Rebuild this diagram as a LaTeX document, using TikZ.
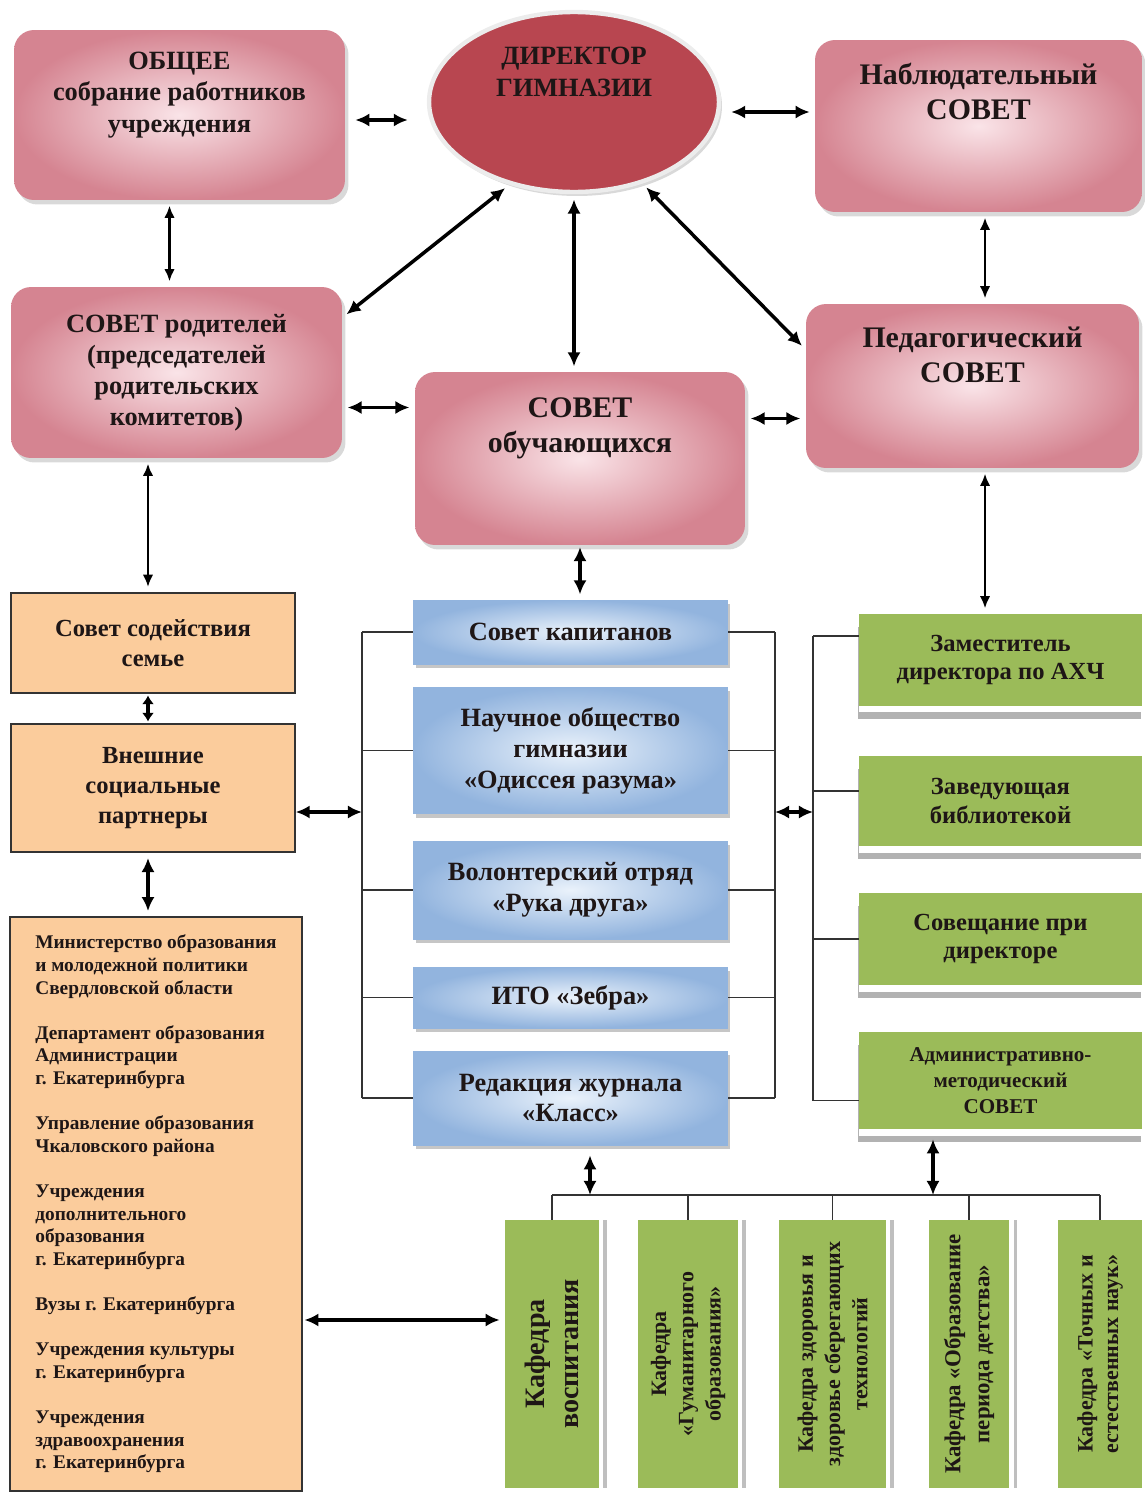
\documentclass[tikz,border=0pt]{standalone}
\usepackage{fontspec}
\setmainfont{Liberation Serif}
\usetikzlibrary{shapes.geometric, arrows.meta, shadows, calc}
\definecolor{pinkedge}{RGB}{213,132,145}
\definecolor{pinkmid}{RGB}{250,228,232}
\definecolor{dirred}{RGB}{184,70,80}
\definecolor{peach}{RGB}{251,204,156}
\definecolor{blueedge}{RGB}{146,180,222}
\definecolor{bluemid}{RGB}{234,242,251}
\definecolor{olivegreen}{RGB}{155,187,89}
\definecolor{textdark}{RGB}{30,22,22}
\tikzstyle{dblarrow} = [{Latex[length=8pt,width=7.5pt]}-{Latex[length=8pt,width=7.5pt]}, line width=2pt, shorten <=3pt, shorten >=3pt]
\tikzstyle{thinarrow} = [{Latex[length=7pt,width=6pt]}-{Latex[length=7pt,width=6pt]}, line width=1.4pt, shorten <=3pt, shorten >=3pt]
\tikzstyle{bracket} = [line width=0.9pt, black!80]

\begin{document}
\begin{tikzpicture}[x=0.02cm, y=-0.02cm,
	pinkbox/.style={rectangle, rounded corners=0.4cm, inner color=pinkmid, outer color=pinkedge, drop shadow={shadow xshift=0.07cm, shadow yshift=-0.09cm, opacity=0.3}, align=center, text=textdark, font=\bfseries\fontsize{15}{18}\selectfont},
	dirbox/.style={ellipse, inner sep=0pt, minimum width=5.8cm, minimum height=3.6cm, fill=dirred, draw=white!85!gray, line width=2.5pt, drop shadow={shadow xshift=0.06cm, shadow yshift=-0.08cm, opacity=0.3}, align=center, text=textdark, font=\bfseries\fontsize{15}{18}\selectfont},
	peachbox/.style={rectangle, fill=peach, draw=black!80, line width=0.8pt, align=center, text=textdark, font=\bfseries\fontsize{14}{17}\selectfont},
	bluebox/.style={rectangle, minimum width=6.3cm, inner color=bluemid, outer color=blueedge, drop shadow={shadow xshift=0.05cm, shadow yshift=-0.08cm, opacity=0.45}, align=center, text=textdark, font=\bfseries\fontsize{15}{17.6}\selectfont},
	greenbox/.style={rectangle, minimum width=5.66cm, fill=olivegreen, drop shadow={shadow yshift=-0.26cm, shadow xshift=-0.02cm, fill=gray!60, opacity=1}, drop shadow={shadow yshift=-0.13cm, shadow xshift=0cm, fill=white, opacity=1}, align=center, text=textdark, font=\bfseries\fontsize{14}{16}\selectfont},
	kafbox/.style={rectangle, rotate=90, minimum width=5.36cm, fill=olivegreen, drop shadow={shadow xshift=0.16cm, shadow yshift=0cm, fill=gray!50, opacity=1}, drop shadow={shadow xshift=0.09cm, shadow yshift=0cm, fill=white, opacity=1}, align=center, text=textdark, font=\bfseries\fontsize{12.5}{15.5}\selectfont}]

	\useasboundingbox (0,0) rectangle (1144,1494);

	% TOP LEVEL
	\node[pinkbox, minimum width=6.62cm, minimum height=3.40cm] (obshee) at (179.5,115) {ОБЩЕЕ\\собрание работников\\учреждения\\[0.29cm]\mbox{}};
	\node[dirbox] (dir) at (574,102) {ДИРЕКТОР\\ГИМНАЗИИ\\[0.57cm]\mbox{}};
	\node[pinkbox, font=\bfseries\fontsize{17}{20}\selectfont, minimum width=6.54cm, minimum height=3.44cm] (nabl) at (978.5,126) {Наблюдательный\\СОВЕТ\\[0.7cm]\mbox{}};

	\node[pinkbox, font=\bfseries\fontsize{15}{17.6}\selectfont, minimum width=6.62cm, minimum height=3.42cm] (rod) at (176.5,372.5) {СОВЕТ родителей\\(председателей\\родительских\\комитетов)};
	\node[pinkbox, font=\bfseries\fontsize{17}{20}\selectfont, minimum width=6.60cm, minimum height=3.46cm] (obuch) at (580,458.5) {СОВЕТ\\обучающихся\\[0.62cm]\mbox{}};
	\node[pinkbox, font=\bfseries\fontsize{17}{20}\selectfont, minimum width=6.66cm, minimum height=3.28cm] (ped) at (972.5,386) {Педагогический\\СОВЕТ\\[0.54cm]\mbox{}};

	% LEFT COLUMN
	\node[peachbox, minimum width=5.68cm, minimum height=2.00cm] (sod) at (153,643) {Совет содействия\\семье};
	\node[peachbox, minimum width=5.68cm, minimum height=2.56cm] (vnesh) at (153,788) {Внешние\\социальные\\партнеры};
	\node[peachbox, minimum width=5.84cm, minimum height=11.48cm, align=left, font=\bfseries\fontsize{11}{12.9}\selectfont] (min) at (156,1204)
	{%
		Министерство образования\\
		и молодежной политики\\
		Свердловской области\\[0.45cm]
		Департамент образования\\
		Администрации\\
		г. Екатеринбурга\\[0.45cm]
		Управление образования\\
		Чкаловского района\\[0.45cm]
		Учреждения\\
		дополнительного\\
		образования\\
		г. Екатеринбурга\\[0.45cm]
		Вузы г. Екатеринбурга\\[0.45cm]
		Учреждения культуры\\
		г. Екатеринбурга\\[0.45cm]
		Учреждения\\
		здравоохранения\\
		г. Екатеринбурга};

	% STUDENT BODIES
	\node[bluebox, minimum height=1.28cm] (kap) at (570.5,632) {Совет капитанов};
	\node[bluebox, minimum height=2.54cm] (nauch) at (570.5,750.5) {Научное общество\\гимназии\\«Одиссея разума»};
	\node[bluebox, minimum height=1.96cm] (volont) at (570.5,890) {Волонтерский отряд\\«Рука друга»};
	\node[bluebox, minimum height=1.22cm] (ito) at (570.5,997.5) {ИТО «Зебра»};
	\node[bluebox, minimum height=1.88cm] (red) at (570.5,1098) {Редакция журнала\\«Класс»};

	% ADMINISTRATION
	\node[greenbox, minimum height=1.84cm] (zam) at (1000.5,660) {Заместитель\\директора по АХЧ};
	\node[greenbox, minimum height=1.80cm] (zav) at (1000.5,801) {Заведующая\\библиотекой};
	\node[greenbox, minimum height=1.84cm] (sov) at (1000.5,939) {Совещание при\\директоре};
	\node[greenbox, minimum height=1.94cm, font=\bfseries\fontsize{12}{14.7}\selectfont] (adm) at (1000.5,1080.5) {Административно-\\методический\\СОВЕТ};

	% KAFEDRAS
	\node[kafbox, minimum height=1.88cm, font=\bfseries\fontsize{16}{19.5}\selectfont] (k1) at (552,1354) {Кафедра\\воспитания};
	\node[kafbox, minimum height=2.00cm] (k2) at (688,1354) {Кафедра\\«Гуманитарного\\образования»};
	\node[kafbox, minimum height=2.14cm] (k3) at (832.5,1354) {Кафедра здоровья и\\здоровье сберегающих\\технологий};
	\node[kafbox, minimum height=1.60cm, font=\bfseries\fontsize{13}{16.5}\selectfont] (k4) at (969,1354) {Кафедра «Образование\\периода детства»};
	\node[kafbox, minimum height=1.68cm, font=\bfseries\fontsize{12.5}{14.5}\selectfont] (k5) at (1100,1354) {Кафедра «Точных и\\естественных наук»};

	% CONNECTIONS
	\coordinate (lb) at (362,812);
	\coordinate (rb) at (775,812);
	\coordinate (gb) at (813,812);
	\coordinate (kb1) at (590,1195);
	\coordinate (kb2) at (933,1195);

	\draw[dblarrow, shorten <=0.2cm, shorten >=0.38cm] ([yshift=-0.1cm]obshee.east) -- ([yshift=-0.1cm]obshee.east -| dir.west);
	\draw[dblarrow, shorten <=0.2cm, shorten >=0.1cm] ([yshift=-0.2cm]dir.east) -- ([yshift=-0.2cm]dir.east -| nabl.west);
	\draw[thinarrow] ([xshift=-0.2cm]obshee.south) -- ([xshift=-0.2cm]obshee.south |- rod.north);
	\draw[thinarrow] ([xshift=0.13cm]nabl.south) -- ([xshift=0.13cm]nabl.south |- ped.north);
	\draw[dblarrow] (dir.232) -- ([yshift=-0.62cm]rod.north east);
	\draw[dblarrow] (dir.south) -- (dir.south |- obuch.north);
	\draw[dblarrow] (dir.310) -- ([yshift=-0.92cm]ped.north west);
	\draw[dblarrow] ([yshift=-0.7cm]rod.east) -- ([yshift=-0.7cm]rod.east -| obuch.west);
	\draw[dblarrow] ([yshift=0.8cm]obuch.east) -- ([yshift=0.8cm]obuch.east -| ped.west);
	\draw[thinarrow] ([xshift=-0.1cm]sod.north) -- ([xshift=-0.1cm]sod.north |- rod.south);
	\draw[dblarrow, shorten <=1pt] (obuch.south) -- (obuch.south |- kap.north);
	\draw[thinarrow] ([xshift=-0.31cm]zam.north) -- ([xshift=-0.31cm]zam.north |- ped.south);
	\draw[{Latex[length=5pt,width=7pt]}-{Latex[length=5pt,width=7pt]}, line width=2pt, shorten <=1pt, shorten >=1pt] ([xshift=-0.1cm]sod.south) -- ([xshift=-0.1cm]sod.south |- vnesh.north);
	\draw[dblarrow] ([xshift=-0.1cm]vnesh.south) -- ([xshift=-0.1cm]vnesh.south |- min.north);

	% brackets
	\foreach \n in {kap,nauch,volont,ito,red}
	{
		\draw[bracket] (\n.west) -- (\n.west -| lb);
		\draw[bracket] (\n.east) -- (\n.east -| rb);
	}
	\draw[bracket] (kap.west -| lb) -- (red.west -| lb);
	\draw[bracket] (kap.east -| rb) -- (red.east -| rb);
	\foreach \n/\s in {zam/0.48,zav/0.2,sov/0,adm/-0.4}
		\draw[bracket] ([yshift=\s cm]\n.west) -- ([yshift=\s cm]\n.west -| gb);
	\draw[bracket] ([yshift=0.48cm]zam.west -| gb) -- ([yshift=-0.4cm]adm.west -| gb);
	\draw[dblarrow, shorten <=0pt, shorten >=0pt] (vnesh.east |- lb) -- (lb);
	\draw[dblarrow, shorten <=0pt, shorten >=0pt] (rb) -- (gb);

	% kafedras
	\draw[bracket] (k1.east |- kb1) -- (k5.east |- kb1);
	\foreach \k in {k1,k2,k3,k4,k5}
		\draw[bracket] (\k.east |- kb1) -- (\k.east);
	\draw[dblarrow, shorten <=0.2cm, shorten >=0pt] (red.south -| kb1) -- (kb1);
	\draw[dblarrow, shorten <=0.2cm, shorten >=0pt] (adm.south -| kb2) -- (kb2);
	\draw[dblarrow, shorten <=1pt, shorten >=0.1cm] ([yshift=-2.32cm]min.east) -- ([yshift=-2.32cm]min.east -| k1.north);

\end{tikzpicture}
\end{document}
